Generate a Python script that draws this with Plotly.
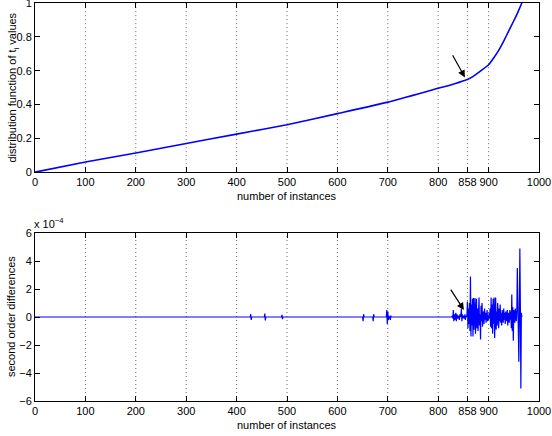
import plotly.graph_objects as go

# ---- data ----
x_ticks = [0, 100, 200, 300, 400, 500, 600, 700, 800, 858, 900, 1000]
x_grid = [100, 200, 300, 400, 500, 600, 700, 800, 858, 900]
top_y_ticks = [0, 0.2, 0.4, 0.6, 0.8, 1]
bot_y_ticks = [-6, -4, -2, 0, 2, 4, 6]

# distribution function of t_i values (read at key instances)
dist_x = [0, 100, 200, 300, 400, 500, 600, 700, 800, 830, 850, 858, 866, 875,
          885, 900, 910, 920, 930, 940, 950, 958, 966]
dist_y = [0.0, 0.060, 0.113, 0.169, 0.225, 0.280, 0.346, 0.414, 0.496, 0.520,
          0.540, 0.548, 0.560, 0.578, 0.600, 0.635, 0.675, 0.720, 0.775, 0.835,
          0.895, 0.945, 1.0]

# second order differences (units of 1e-4)
diff_x_quiet = [0, 427, 428, 429, 430, 455, 456, 457, 458, 489, 490, 491, 492,
                650, 651, 652, 653, 670, 671, 672, 673,
                697, 698, 699, 700, 701, 702, 703, 705, 706, 707, 825]
diff_y_quiet = [0, 0, 0.2, -0.2, 0, 0, 0.25, -0.25, 0, 0, 0.15, -0.15, 0,
                0, -0.3, 0.2, 0, 0, -0.3, 0.2, 0,
                0, 0.5, -0.5, 0.4, -0.2, 0.1, 0, -0.2, 0.1, 0, 0]
diff_noisy_start = 826
diff_y_noisy = [
    0, 0, 0.1, -0.1, 0.5, -0.3, 0.2, -0.2, 0.1, 0.3, -0.3, 0.2, 0, -0.1, 0.1, 0,
    -0.2, 0.2, 0, 0.1, 0.6, -0.3, 0.2, -0.1, 0.1, 0, -0.1, 0.2, -0.2, 0.1, 0, 0.1,
    1.1, -0.8, 0.6, -0.5, 1.0, -1.0, 2.9, -1.4, 0.9, -0.6, 1.3, -1.4, 1.35, -0.9,
    0.5, 1.35, -1.2, 0.3, 1.3, -0.8, 0.6, -1.0, 0.9, 1.4, -0.6, 0.2, -1.6, 0.8,
    -0.3, 1.0, -0.7, 0.4, 0.3, -0.5, 0.6, -0.2, 0.3, -0.4, 0.2, 0.5, -0.3, 0.1,
    -0.2, 0.3, -0.1, 0.6, -0.7, 1.4, -0.8, 0.9, -1.2, 1.3, -0.5, 1.4, -1.5, 0.7,
    1.4, -0.9, 0.4, -0.6, 1.0, 0.2, -0.8, 0.6, -0.3, 0.9, -0.4, 0.3, -0.6, 0.5,
    0.1, -0.4, 0.6, -0.2, 0.3, -0.5, 0.4, 0.2, -0.3, 0.5, -0.6, 0.3, 0.1, -0.4,
    0.5, -0.2, 0.4, -0.8, 1.6, -1.0, 0.7, -1.7, 0.5, 0.3, -0.4, 0.6, 0.2, -0.3,
    0.4, 3.5, -0.2, 0.6, -3.2, 0.2, 4.9, 1.0, -5.1, 0.3, 0]
diff_x = diff_x_quiet + [diff_noisy_start + i for i in range(len(diff_y_noisy))]
diff_y = diff_y_quiet + diff_y_noisy

# arrows (tail -> head)
arrow_top = dict(tail=(827, 0.70), head=(853, 0.56))
arrow_bot = dict(tail=(823, 2.07), head=(851, 0.5))

FONT = "Liberation Sans, Arial, Helvetica, sans-serif"
BLUE = "#0000ff"

fig = go.Figure()
fig.add_trace(go.Scatter(x=dist_x, y=dist_y, mode="lines",
                         line=dict(color=BLUE, width=1.6, shape="spline", smoothing=0.5),
                         xaxis="x", yaxis="y", showlegend=False, hoverinfo="skip"))
fig.add_trace(go.Scatter(x=diff_x, y=diff_y, mode="lines",
                         line=dict(color=BLUE, width=1.2),
                         xaxis="x2", yaxis="y2", showlegend=False, hoverinfo="skip"))

xcommon = dict(range=[0, 1000], tickvals=x_ticks, ticktext=[str(v) for v in x_ticks],
               showline=True, linecolor="black", linewidth=1, mirror="ticks",
               ticks="inside", ticklen=5, tickcolor="black",
               showgrid=False, zeroline=False, automargin=False,
               ticklabeloverflow="allow",
               tickfont=dict(family=FONT, size=11, color="black"))
ycommon = dict(showline=True, linecolor="black", linewidth=1, mirror="ticks",
               ticks="inside", ticklen=5, tickcolor="black",
               showgrid=False, zeroline=False, automargin=False,
               ticklabeloverflow="allow",
               tickfont=dict(family=FONT, size=11, color="black"))

fig.update_layout(
    width=552, height=436,
    margin=dict(l=35, r=13, t=3, b=35, autoexpand=False),
    paper_bgcolor="white", plot_bgcolor="white",
    font=dict(family=FONT, size=11, color="black"),
    xaxis=dict(xcommon, domain=[0, 1], anchor="y"),
    yaxis=dict(ycommon, domain=[0.575, 1], range=[0, 1], tickvals=top_y_ticks,
               ticktext=["0", "0.2", "0.4", "0.6", "0.8", "1"], anchor="x"),
    xaxis2=dict(xcommon, domain=[0, 1], anchor="y2"),
    yaxis2=dict(ycommon, domain=[0, 0.422], range=[-6, 6], tickvals=bot_y_ticks,
                ticktext=["\u22126", "\u22124", "\u22122", "0", "2", "4", "6"], anchor="x2"),
)

# dotted vertical grid lines
for xr, yr in (("x", "y"), ("x2", "y2")):
    for g in x_grid:
        fig.add_shape(type="line", xref=xr, yref=yr + " domain", x0=g, x1=g, y0=0, y1=1,
                      line=dict(color="#666666", width=1, dash="1px,3px"), layer="below")

anns = [
    dict(text="number of instances", xref="paper", yref="paper", x=0.5, y=0.575,
         yshift=-16, xanchor="center", yanchor="top", showarrow=False, font=dict(size=11)),
    dict(text="number of instances", xref="paper", yref="paper", x=0.5, y=0,
         yshift=-16, xanchor="center", yanchor="top", showarrow=False, font=dict(size=11)),
    dict(text="distribution function of t<sub>i</sub> values", xref="paper", yref="paper",
         x=0, xshift=-22, y=0.7875, xanchor="center", yanchor="middle",
         textangle=-90, showarrow=False, font=dict(size=11)),
    dict(text="second order differences", xref="paper", yref="paper",
         x=0, xshift=-24, y=0.211, xanchor="center", yanchor="middle",
         textangle=-90, showarrow=False, font=dict(size=11)),
    dict(text="x 10<sup>\u22124</sup>", xref="paper", yref="paper", x=0, xshift=-3,
         y=0.422, yshift=1, xanchor="left", yanchor="bottom", showarrow=False,
         font=dict(size=11)),
]
for a, xr, yr in ((arrow_top, "x", "y"), (arrow_bot, "x2", "y2")):
    anns.append(dict(x=a["head"][0], y=a["head"][1], ax=a["tail"][0], ay=a["tail"][1],
                     xref=xr, yref=yr, axref=xr, ayref=yr, text="", showarrow=True,
                     arrowhead=2, arrowsize=1.2, arrowwidth=1.2, arrowcolor="black"))
fig.update_layout(annotations=anns)

fig.write_html("out.html", config={"displayModeBar": False},
               post_script="document.body.style.margin='0';document.body.style.padding='0';"
                           "document.documentElement.style.overflow='hidden';")
